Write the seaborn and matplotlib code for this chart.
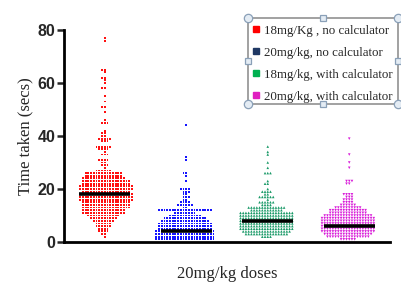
import numpy as np
import pandas as pd
import seaborn as sns
import matplotlib.pyplot as plt
from matplotlib.patches import Rectangle
from matplotlib.lines import Line2D

# Dot counts per integer time value (secs)
red_vals = [77, 76, 65, 64, 62, 61, 60, 58, 55, 53, 51, 49, 46, 45, 42, 41, 40, 39, 38, 36, 35, 34, 33, 31, 30, 29, 28,
            27, 26, 25, 24, 23, 22, 21, 20, 19, 18, 17, 16, 15, 14, 13, 12, 11, 10, 9, 8, 7, 6, 5, 4, 3, 2]
red_counts = [1, 1, 2, 1, 2, 1, 1, 2, 1, 1, 2, 1, 1, 3, 1, 2, 2, 5, 3, 6, 4, 1, 3, 4, 2, 3, 1,
              6, 14, 14, 16, 18, 18, 20, 20, 18, 20, 20, 20, 18, 18, 18, 16, 16, 12, 10, 8, 6, 6, 4, 4, 2, 1]

blue_vals = [44, 32, 31, 26, 25, 23, 20, 19, 18, 17, 16, 15, 14, 13, 12, 11, 10, 9, 8, 7, 6, 5, 4, 3, 2, 1]
blue_counts = [1, 1, 1, 2, 1, 1, 4, 3, 2, 3, 2, 4, 6, 2, 20, 8, 12, 16, 18, 20, 20, 20, 22, 22, 22, 22]

green_vals = [36, 34, 33, 30, 28, 26, 23, 22, 20, 19, 18, 17, 16, 15, 14, 13, 12, 11, 10, 9, 8, 7, 6, 5, 4, 3, 2]
green_counts = [1, 1, 1, 1, 1, 3, 1, 2, 1, 4, 2, 6, 1, 6, 4, 14, 12, 20, 20, 20, 20, 20, 20, 20, 18, 16, 4]

magenta_vals = [39, 33, 30, 28, 23, 22, 18, 17, 16, 15, 14, 13, 12, 11, 10, 9, 8, 7, 6, 5, 4, 3, 2, 1]
magenta_counts = [1, 1, 1, 1, 3, 2, 4, 3, 4, 4, 6, 10, 14, 14, 18, 20, 20, 20, 20, 20, 20, 18, 16, 6]

# median lines as drawn in the picture
medians = [18, 4, 8, 6]

groups = ['18mg/Kg , no calculator', '20mg/kg, no calculator',
          '18mg/kg, with calculator', '20mg/kg, with calculator']
dot_colors = ['#ff1010', '#1515ff', '#1a9a68', '#d81bd8']
legend_colors = ['#ff0000', '#1f3864', '#00b050', '#e020c0']
dot_markers = ['s', 's', '^', 'v']
dot_sizes = [1.3, 1.3, 1.85, 1.85]
edge_pads = [0.57, 0.57, 0.02, 0.02]

all_vals = [red_vals, blue_vals, green_vals, magenta_vals]
all_counts = [red_counts, blue_counts, green_counts, magenta_counts]

rows = []
for g, v, c in zip(groups, all_vals, all_counts):
    for t in np.repeat(v, c):
        rows.append({'group': g, 'time': t})
df = pd.DataFrame(rows)

sns.set_style('white')
plt.rcParams['font.family'] = ['Liberation Sans', 'DejaVu Sans']

fig = plt.figure(figsize=(4.02, 2.85), dpi=100)
ax = fig.add_axes([64 / 402, 1 - 242 / 285, (390 - 64) / 402, (242 - 30) / 285])

# invisible edge widens the swarm spacing without growing the dots
for g, col, mk, sz, lw in zip(groups, dot_colors, dot_markers, dot_sizes, edge_pads):
    sns.swarmplot(data=df[df['group'] == g], x='group', y='time', order=groups,
                  color=col, marker=mk, size=sz, linewidth=lw, edgecolor='none',
                  ax=ax, warn_thresh=1)

for i, m in enumerate(medians):
    ax.hlines(m, i - 0.31, i + 0.31, color='black', lw=2.6, zorder=5)

ax.set_xlim(-0.5, 3.5)
ax.set_ylim(0, 80)
ax.set_yticks([0, 20, 40, 60, 80])
ax.set_xticks([])
sns.despine(ax=ax)
for s in ['left', 'bottom']:
    ax.spines[s].set_linewidth(2)
    ax.spines[s].set_color('black')
ax.tick_params(axis='y', direction='out', length=5, width=1.8, left=True, pad=1)
for lab in ax.get_yticklabels():
    lab.set_fontweight('bold')
    lab.set_fontsize(11.5)

ax.set_ylabel('Time taken (secs)', family='Liberation Serif', fontsize=12, labelpad=3)
ax.set_xlabel('20mg/kg doses', family='Liberation Serif', fontsize=12, labelpad=17)

# legend with selection-style frame
handles = [Line2D([], [], ls='none', marker='s', markersize=4.5, color=c) for c in legend_colors]
fig.legend(handles, groups, loc='upper left', bbox_to_anchor=(250 / 402, 1 - 22 / 285),
           frameon=False, prop={'family': 'Liberation Serif', 'size': 9.3},
           handlelength=0.6, handletextpad=0.3, labelspacing=0.78, borderaxespad=0, borderpad=0.2)

x0, x1, y0, y1 = 248 / 402, 398 / 402, 1 - 104 / 285, 1 - 18 / 285
fig.add_artist(Rectangle((x0, y0), x1 - x0, y1 - y0, transform=fig.transFigure,
                         fill=False, edgecolor='#9a9a9a', lw=1.3))
xm, ym = (x0 + x1) / 2, (y0 + y1) / 2
fig.add_artist(Line2D([x0, x1, x0, x1], [y0, y0, y1, y1], transform=fig.transFigure, ls='none',
                      marker='o', markersize=6, markerfacecolor='#e4ecf4', markeredgecolor='#8aa0b8', mew=0.9))
fig.add_artist(Line2D([xm, xm, x0, x1], [y0, y1, ym, ym], transform=fig.transFigure, ls='none',
                      marker='s', markersize=4.5, markerfacecolor='#e4ecf4', markeredgecolor='#8aa0b8', mew=0.9))

fig.savefig('out.png', dpi=100)
